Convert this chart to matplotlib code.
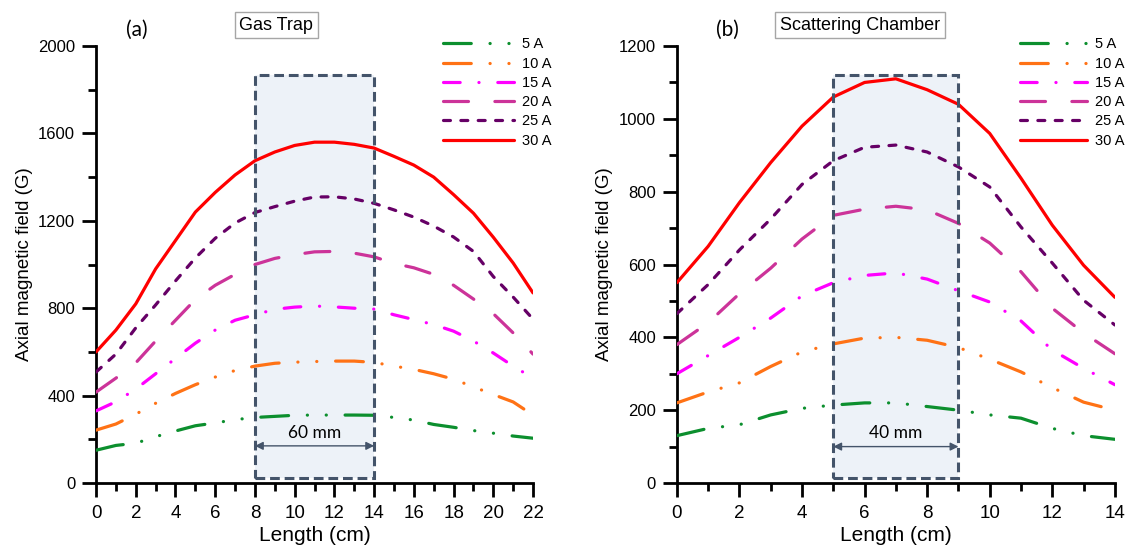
import numpy as np
import matplotlib.pyplot as plt
import matplotlib as mpl
from matplotlib import patches

# ---- data ----
currents = ['5 A', '10 A', '15 A', '20 A', '25 A', '30 A']

len_a = np.arange(0, 23)
gas_5 = [150, 172, 182, 212, 238, 262, 275, 290, 300, 305, 310, 311, 311, 311, 310, 300, 288, 268, 255, 240, 228, 215, 205]
gas_10 = [242, 270, 315, 365, 410, 450, 485, 515, 535, 548, 553, 556, 558, 558, 552, 535, 520, 500, 475, 440, 405, 371, 311]
gas_15 = [330, 372, 430, 500, 570, 640, 700, 745, 770, 795, 805, 810, 806, 800, 796, 770, 748, 725, 695, 650, 595, 535, 480]
gas_20 = [416, 480, 550, 650, 745, 840, 905, 955, 1000, 1028, 1045, 1058, 1060, 1052, 1035, 1005, 985, 955, 905, 842, 775, 687, 590]
gas_25 = [508, 590, 710, 815, 925, 1030, 1120, 1190, 1238, 1265, 1290, 1309, 1310, 1300, 1280, 1250, 1217, 1176, 1126, 1060, 945, 851, 750]
gas_30 = [600, 700, 820, 980, 1110, 1240, 1330, 1410, 1475, 1515, 1545, 1560, 1560, 1550, 1533, 1495, 1455, 1400, 1320, 1235, 1125, 1007, 870]

len_b = np.arange(0, 15)
sc_5 = [130, 150, 160, 187, 205, 214, 220, 220, 210, 200, 187, 178, 150, 130, 120]
sc_10 = [220, 250, 275, 320, 360, 382, 398, 400, 392, 372, 340, 305, 262, 222, 200]
sc_15 = [300, 350, 400, 453, 514, 550, 570, 577, 560, 528, 497, 445, 365, 315, 270]
sc_20 = [380, 440, 520, 590, 670, 735, 752, 760, 750, 713, 659, 580, 480, 412, 355]
sc_25 = [465, 545, 640, 725, 820, 885, 922, 928, 909, 868, 813, 703, 604, 502, 434]
sc_30 = [550, 650, 770, 880, 980, 1060, 1100, 1110, 1080, 1040, 960, 837, 708, 598, 510]

mpl.rcParams['lines.scale_dashes'] = False
mpl.rcParams['font.family'] = ['Liberation Sans', 'DejaVu Sans']

colors = ['#0c8f2e', '#ff7215', '#ff00ff', '#cc3399', '#660066', '#ff0000']
# dash patterns in points (solid for 30 A)
styles = [(0, (20, 13.5, 0.1, 13.5, 0.1, 13.5)),
          (0, (20, 13.5, 0.1, 13.5, 0.1, 13.5)),
          (0, (12, 13.5, 0.1, 13.5)),
          (0, (18, 19)),
          (0, (5, 7.5)),
          '-']
lw = 2.3
calib = ['Lato', 'DejaVu Sans']
slate = '#44546a'


def panel(ax, x, series, xmax, ymax, ymaj, box, arrow_y, box_text, title, title_x, tag, tag_x,
          leg_x=0.78, leg_len=4.9):
    # shaded region
    bx0, bx1, by0, by1 = box
    ax.add_patch(patches.Rectangle((bx0, by0), bx1 - bx0, by1 - by0, facecolor='#edf2f8',
                                   edgecolor='none', zorder=0.5))
    for y, c, ls, lab in zip(series, colors, styles, currents):
        ax.plot(x, y, color=c, linestyle=ls, linewidth=lw, dash_capstyle='round',
                solid_capstyle='round', label=lab, zorder=3)
    ax.add_patch(patches.Rectangle((bx0, by0), bx1 - bx0, by1 - by0, facecolor='none',
                                   edgecolor=slate, linewidth=2.2, linestyle=(0, (7, 3.5)), zorder=4))
    ax.annotate('', xy=(bx1, arrow_y), xytext=(bx0, arrow_y),
                arrowprops=dict(arrowstyle='<|-|>', color=slate, lw=1.0, mutation_scale=12,
                                shrinkA=0, shrinkB=0), zorder=5)
    ax.text((bx0 + bx1) / 2, arrow_y + ymax * 0.012, box_text, ha='center', va='bottom',
            fontsize=12.5, family=calib, zorder=5)

    ax.set_xlim(0, xmax)
    ax.set_ylim(0, ymax)
    ax.set_xticks(np.arange(0, xmax + 1, 2))
    ax.set_xticks(np.arange(0, xmax + 1, 1), minor=True)
    ax.set_yticks(np.arange(0, ymax + 1, ymaj))
    ax.set_yticks(np.arange(0, ymax + 1, ymaj / 2), minor=True)
    for s in ['top', 'right']:
        ax.spines[s].set_visible(False)
    for s in ['left', 'bottom']:
        ax.spines[s].set_linewidth(2.0)
    ax.tick_params(which='major', direction='out', length=10, width=2.0)
    ax.tick_params(which='minor', direction='out', length=6, width=2.0)
    ax.tick_params(axis='x', labelsize=13.5, pad=6)
    ax.tick_params(axis='y', labelsize=12, pad=5)
    ax.set_xlabel('Length (cm)', fontsize=15, labelpad=3)
    ax.set_ylabel('Axial magnetic field (G)', fontsize=13.5, labelpad=4)

    ax.text(title_x, 1.048, title, transform=ax.transAxes, ha='center', va='center', fontsize=13,
            bbox=dict(boxstyle='square,pad=0.25', facecolor='white', edgecolor='#a6a6a6', linewidth=1))
    ax.text(tag_x, 1.037, tag, transform=ax.transAxes, ha='center', va='center', fontsize=15,
            family=calib)

    ax.legend(loc='upper left', bbox_to_anchor=(leg_x, 1.033), frameon=False, fontsize=10.5,
              handlelength=leg_len, labelspacing=0.36, handletextpad=0.55, borderaxespad=0)


fig = plt.figure(figsize=(11.3, 5.48), dpi=100)
ax1 = fig.add_axes([0.085, 0.1186, 0.3867, 0.7974])
ax2 = fig.add_axes([0.599, 0.1186, 0.3876, 0.7974])

panel(ax1, len_a, [gas_5, gas_10, gas_15, gas_20, gas_25, gas_30], 22, 2000, 400,
      (8, 14, 23, 1867), 170, '60 mm', 'Gas Trap', 0.412, '(a)', 0.094)
panel(ax2, len_b, [sc_5, sc_10, sc_15, sc_20, sc_25, sc_30], 14, 1200, 200,
      (5, 9, 14, 1120), 100, '40 mm', 'Scattering Chamber', 0.418, '(b)', 0.116,
      leg_x=0.77, leg_len=4.6)

fig.savefig('out.png', dpi=100)
